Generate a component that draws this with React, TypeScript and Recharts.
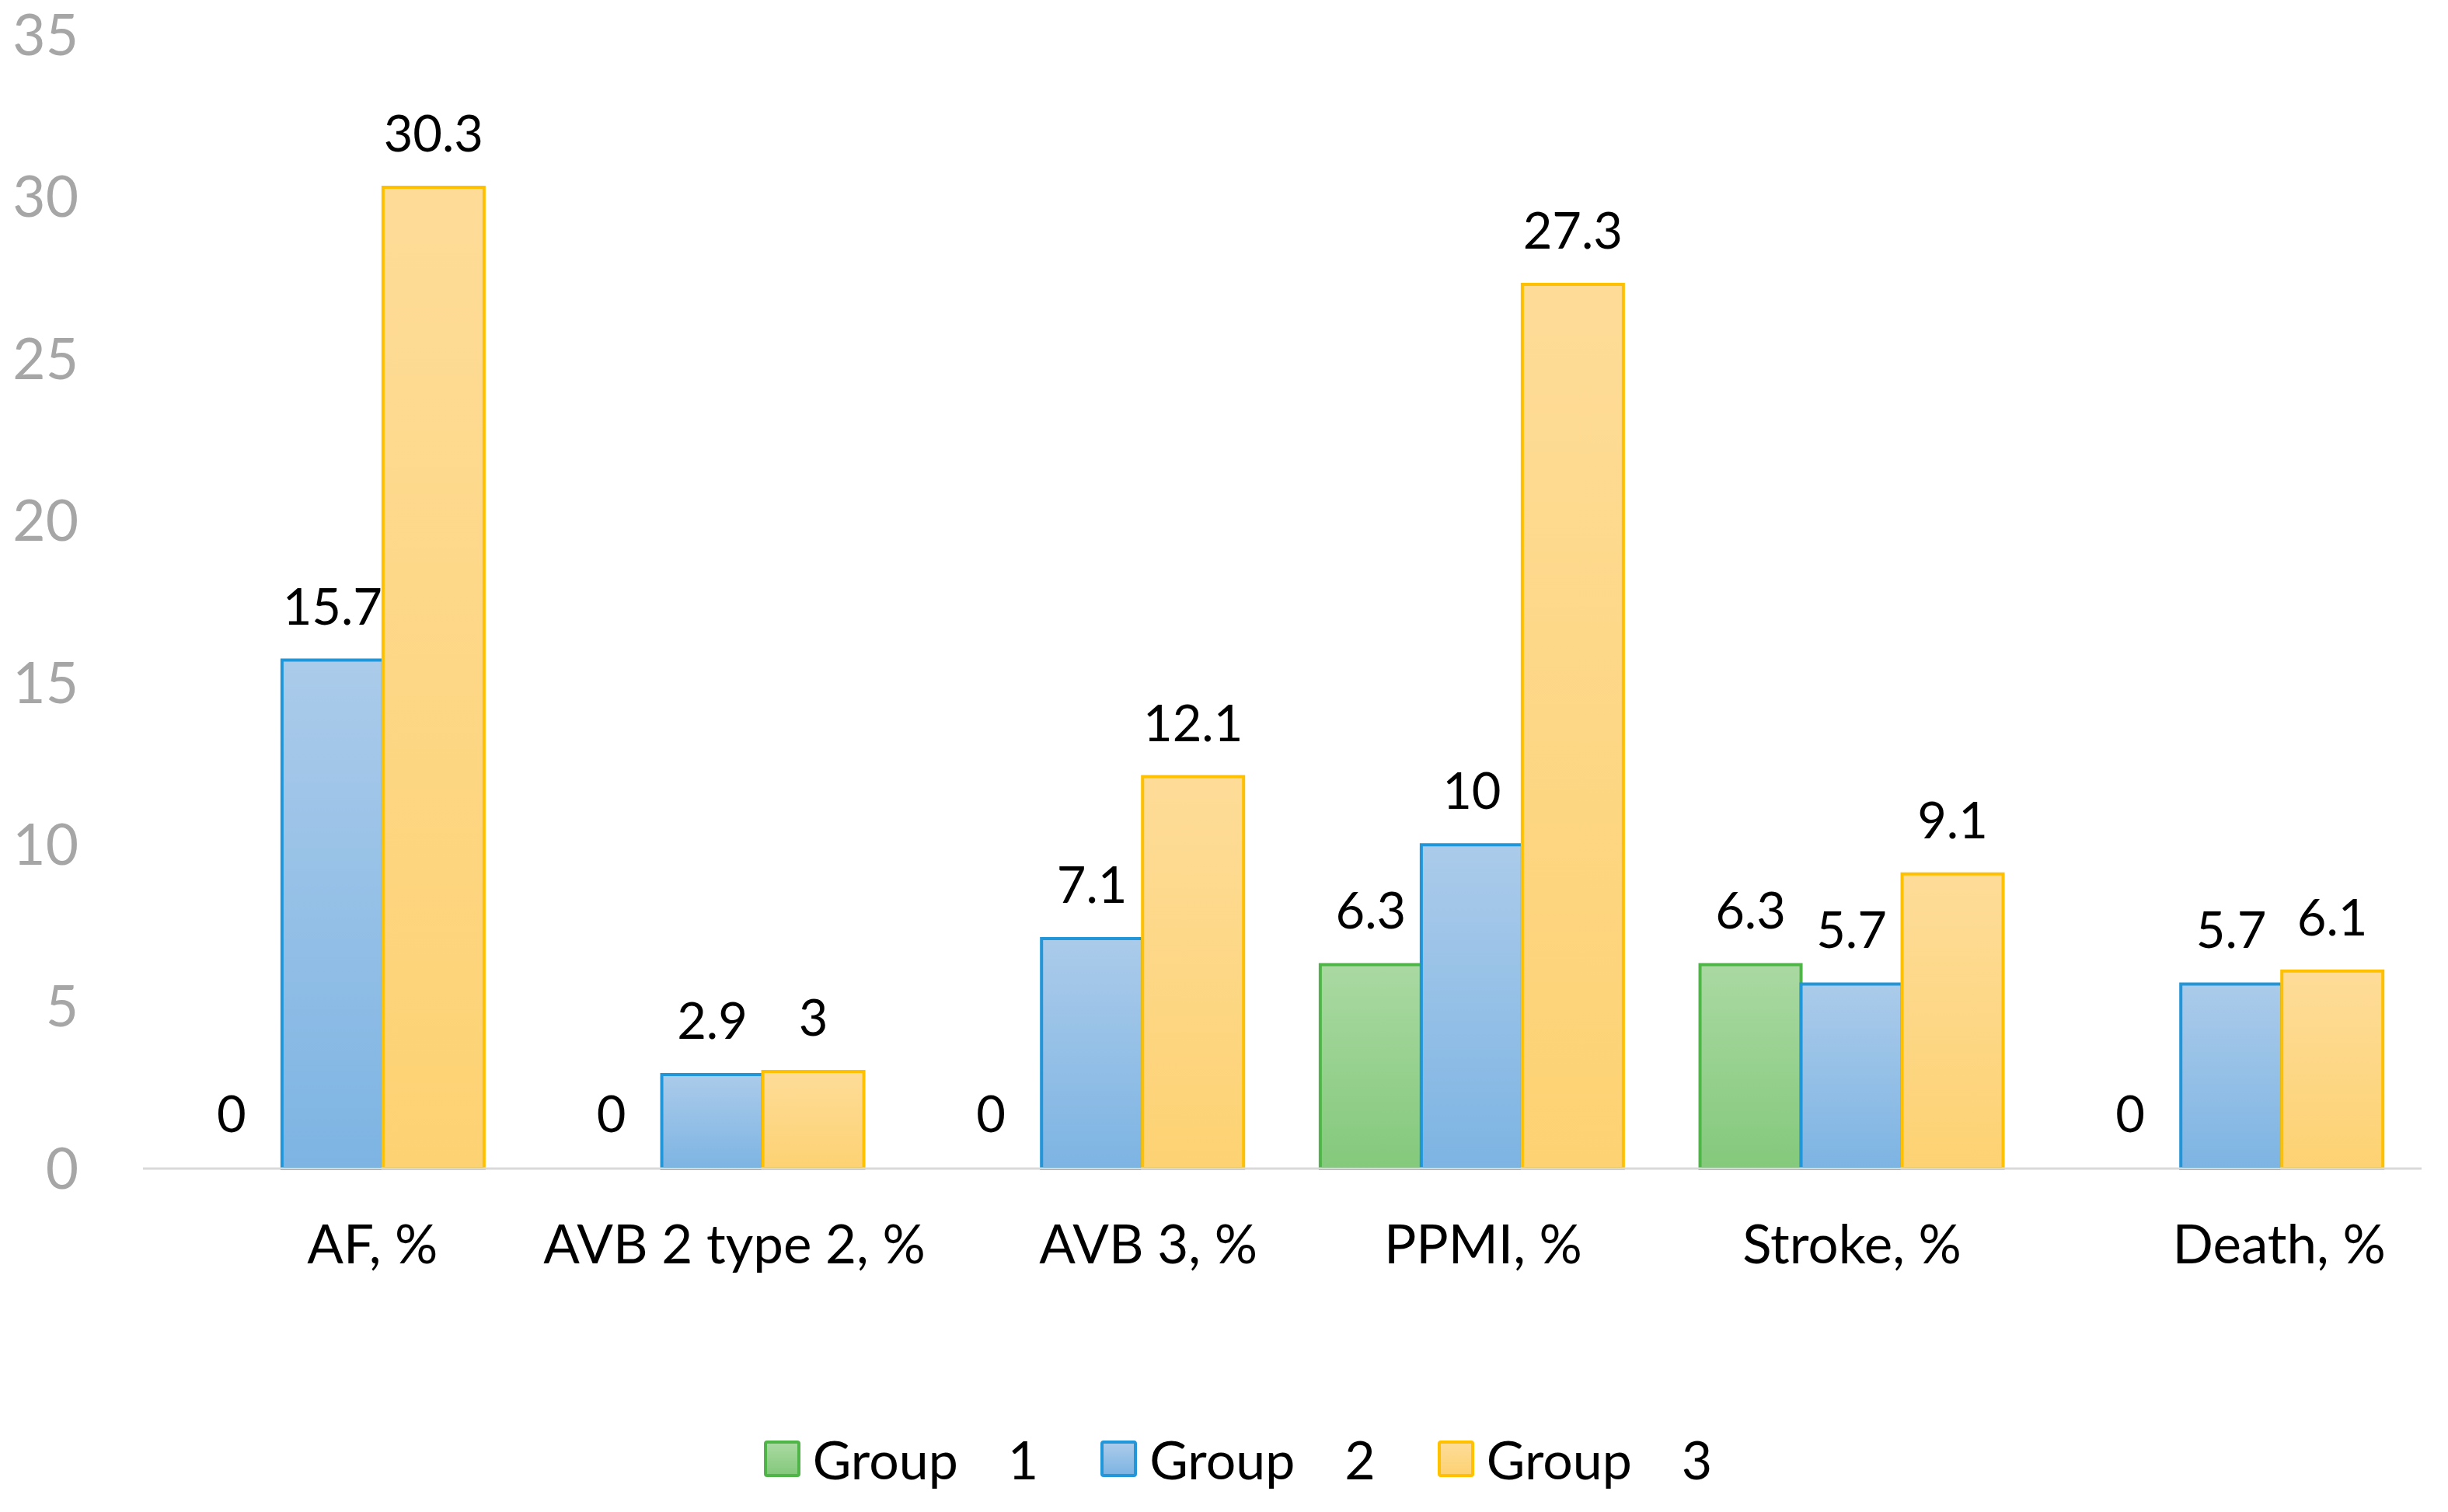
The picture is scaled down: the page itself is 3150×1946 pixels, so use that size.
import { Bar, BarChart, LabelList, Legend, Rectangle, XAxis, YAxis } from "recharts";

const categories = ["AF, %", "AVB 2 type 2, %", "AVB 3, %", "PPMI, %", "Stroke, %", "Death, %"];
const group1 = [0, 0, 0, 6.3, 6.3, 0];
const group2 = [15.7, 2.9, 7.1, 10, 5.7, 5.7];
const group3 = [30.3, 3, 12.1, 27.3, 9.1, 6.1];
const yTicks = [0, 5, 10, 15, 20, 25, 30, 35];
const seriesNames = ["Group 1", "Group 2", "Group 3"];

const data = categories.map((name, i) => ({ name, g1: group1[i], g2: group2[i], g3: group3[i] }));

const FONT = "Lato, 'Noto Sans', sans-serif";

const styles = [
  { key: "g1", stroke: "#4fb548", top: "#aad9a2", bottom: "#84c97c" },
  { key: "g2", stroke: "#2196d9", top: "#abcbea", bottom: "#7db4e3" },
  { key: "g3", stroke: "#ffc000", top: "#fedc98", bottom: "#fdd273" },
];

// the category labels sit a little right of centre in the original
const tickNudge: Record<string, number> = {
  "AF, %": 51,
  "AVB 2 type 2, %": 28,
  "AVB 3, %": 72,
  "PPMI, %": 14,
  "Stroke, %": 0,
  "Death, %": 61,
};

function CategoryTick({ x, y, payload }: any) {
  return (
    <text x={x + (tickNudge[payload.value] ?? 0)} y={y} dy="0.71em" textAnchor="middle" fontFamily={FONT} fontSize={69} fill="#000">
      {payload.value}
    </text>
  );
}

// zero-valued bars get a 1px stub (minPointSize) so their "0" label is still placed; the stub itself is not drawn
function BarShape(props: any) {
  const key = props.dataKey ?? props.tooltipPayload?.[0]?.dataKey;
  if (props.payload && key && props.payload[key] === 0) return <g />;
  return <Rectangle {...props} />;
}

function ValueLabel(props: any) {
  const box = props.viewBox ?? props;
  const { x, y, width } = box;
  if (x == null || y == null) return null;
  return (
    <text x={x + width / 2} y={y - 46} textAnchor="middle" fontFamily={FONT} fontSize={65} fill="#000">
      {props.value}
    </text>
  );
}

function GroupLegend() {
  return (
    <div style={{ display: "flex", justifyContent: "center", alignItems: "center", height: 80, paddingLeft: 36, fontFamily: FONT, fontSize: 68, color: "#000" }}>
      {seriesNames.map((name, i) => {
        const [word, num] = name.split(" ");
        return (
          <div key={name} style={{ display: "flex", alignItems: "center", marginRight: i < 2 ? 80 : 0 }}>
            <span
              style={{
                display: "inline-block",
                width: 39,
                height: 39,
                border: `4px solid ${styles[i].stroke}`,
                borderRadius: 4,
                background: `linear-gradient(${styles[i].top}, ${styles[i].bottom})`,
                marginRight: 16,
              }}
            />
            <span>{word}</span>
            <span style={{ marginLeft: 64 }}>{num}</span>
          </div>
        );
      })}
    </div>
  );
}

export default function App() {
  return (
    <div style={{ position: "absolute", left: 0, top: 0, width: 3150, height: 1946, background: "#fff" }}>
      <BarChart width={3150} height={1946} data={data} margin={{ top: 45, right: 34, left: 0, bottom: 29 }} barCategoryGap="10%" barGap={0}>
        <defs>
          {styles.map((s) => (
            <linearGradient key={s.key} id={`fill-${s.key}`} x1="0" y1="0" x2="0" y2="1">
              <stop offset="0%" stopColor={s.top} />
              <stop offset="100%" stopColor={s.bottom} />
            </linearGradient>
          ))}
        </defs>
        <XAxis
          dataKey="name"
          height={333}
          axisLine={{ stroke: "#d9d9d9", strokeWidth: 3 }}
          tickLine={false}
          tickSize={0}
          tickMargin={73}
          interval={0}
          tick={<CategoryTick />}
        />
        <YAxis
          width={184}
          domain={[0, 35]}
          ticks={yTicks}
          axisLine={false}
          tickLine={false}
          tickSize={0}
          tickMargin={83}
          tick={{ fill: "#a6a6a6", fontSize: 73, fontFamily: FONT }}
        />
        <Legend verticalAlign="bottom" wrapperStyle={{ left: 0, width: 3150, bottom: 29 }} content={<GroupLegend />} />
        {styles.map((s, i) => (
          <Bar
            key={s.key}
            dataKey={s.key}
            name={seriesNames[i]}
            fill={`url(#fill-${s.key})`}
            stroke={s.stroke}
            strokeWidth={4}
            minPointSize={1}
            shape={(p: any) => <BarShape {...p} dataKey={s.key} />}
            isAnimationActive={false}
          >
            <LabelList dataKey={s.key} content={<ValueLabel />} />
          </Bar>
        ))}
      </BarChart>
    </div>
  );
}
